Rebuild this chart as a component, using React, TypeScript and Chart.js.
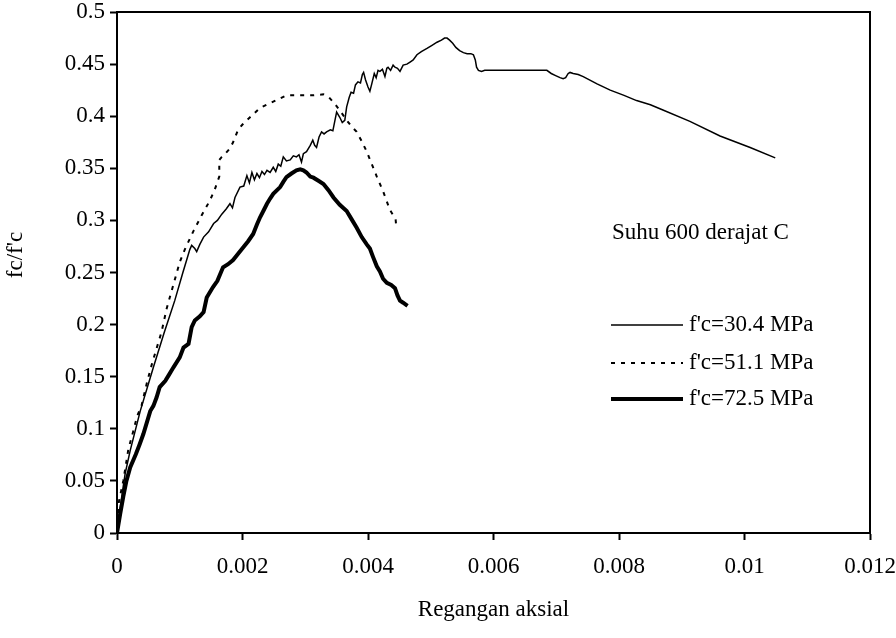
import React, { useEffect, useRef } from "react";
import { Chart, registerables } from "chart.js";

Chart.register(...registerables);

const FONT = "'Liberation Serif', 'Times New Roman', serif";

// Axis ticks
const xTickValues = [0, 0.002, 0.004, 0.006, 0.008, 0.01, 0.012];
const xTickLabels = ["0", "0.002", "0.004", "0.006", "0.008", "0.01", "0.012"];
const yTickValues = [0, 0.05, 0.1, 0.15, 0.2, 0.25, 0.3, 0.35, 0.4, 0.45, 0.5];
const yTickLabels = ["0", "0.05", "0.1", "0.15", "0.2", "0.25", "0.3", "0.35", "0.4", "0.45", "0.5"];

const xTitle = "Regangan aksial";
const yTitle = "fc/f'c";
const noteText = "Suhu 600 derajat C";

// Series 1: f'c=30.4 MPa (thin solid)
const s1Label = "f'c=30.4 MPa";
const s1Strain = [
  0, 0.00002, 0.00005, 0.0001, 0.00013, 0.00021, 0.00037, 0.00058, 0.00075, 0.00092,
  0.00105, 0.00111, 0.00116, 0.00119, 0.00124, 0.00127, 0.00132, 0.00138, 0.00146, 0.00154,
  0.0016, 0.00167, 0.00174, 0.0018, 0.00184, 0.00188, 0.00196, 0.00202, 0.00207, 0.00211,
  0.00215, 0.00219, 0.00223, 0.00227, 0.00231, 0.00235, 0.00239, 0.00244, 0.00249, 0.00253,
  0.00257, 0.00261, 0.00265, 0.0027, 0.00276, 0.00281, 0.00286, 0.0029, 0.00294, 0.00297,
  0.00302, 0.00308, 0.00312, 0.00315, 0.00318, 0.00322, 0.00326, 0.0033, 0.00334, 0.0034,
  0.00344, 0.00347, 0.0035, 0.00355, 0.00359, 0.00363, 0.00366, 0.0037, 0.00373, 0.00377,
  0.0038, 0.00384, 0.00388, 0.00391, 0.00393, 0.00396, 0.004, 0.00403, 0.00406, 0.0041,
  0.00413, 0.00416, 0.00419, 0.00423, 0.00427, 0.0043, 0.00432, 0.00436, 0.0044, 0.00443,
  0.00447, 0.00451, 0.00456, 0.00462, 0.00467, 0.00472, 0.00478, 0.00485, 0.00494, 0.00502,
  0.0051, 0.00517, 0.00522, 0.00526, 0.0053, 0.00535, 0.0054, 0.00546, 0.00552, 0.00558,
  0.00564, 0.00568, 0.00571, 0.00573, 0.00576, 0.00581, 0.00586, 0.00594, 0.006, 0.0065,
  0.00685, 0.00692, 0.00699, 0.00706, 0.00711, 0.00715, 0.00719, 0.00722, 0.00727, 0.00735,
  0.00743, 0.00765, 0.00786, 0.00808, 0.00828, 0.0085, 0.0087, 0.00913, 0.00961, 0.01009,
  0.01049,
];
const s1Ratio = [
  0, 0.012, 0.024, 0.045, 0.057, 0.079, 0.117, 0.159, 0.192, 0.223,
  0.25, 0.262, 0.272, 0.276, 0.273, 0.27, 0.277, 0.284, 0.289, 0.297,
  0.3, 0.306, 0.311, 0.316, 0.312, 0.322, 0.332, 0.333, 0.343, 0.336,
  0.346, 0.339, 0.345, 0.341, 0.347, 0.344, 0.348, 0.346, 0.351, 0.347,
  0.354, 0.352, 0.361, 0.357, 0.358, 0.362, 0.361, 0.363, 0.356, 0.364,
  0.366, 0.372, 0.377, 0.372, 0.37, 0.38, 0.385, 0.383, 0.385, 0.387,
  0.386, 0.395, 0.404, 0.399, 0.394, 0.396, 0.409, 0.418, 0.423, 0.422,
  0.43, 0.433, 0.432, 0.44, 0.442, 0.435, 0.428, 0.424, 0.431, 0.441,
  0.437, 0.444, 0.443, 0.445, 0.438, 0.446, 0.447, 0.444, 0.449, 0.447,
  0.446, 0.443, 0.449, 0.45, 0.452, 0.454, 0.459, 0.462, 0.465, 0.468,
  0.471, 0.473, 0.475, 0.475, 0.473, 0.47, 0.466, 0.463, 0.461, 0.46,
  0.46, 0.459, 0.454, 0.447, 0.444, 0.443, 0.444, 0.444, 0.444, 0.444,
  0.444, 0.441, 0.439, 0.437, 0.436, 0.437, 0.441, 0.442, 0.441, 0.44,
  0.438, 0.431, 0.425, 0.42, 0.415, 0.411, 0.406, 0.395, 0.381, 0.37,
  0.36,
];

// Series 2: f'c=51.1 MPa (dotted)
const s2Label = "f'c=51.1 MPa";
const s2Strain = [
  0, 0.00003, 0.0001, 0.00018, 0.00026, 0.00032, 0.00039, 0.00048, 0.00056, 0.00063,
  0.00071, 0.00079, 0.00085, 0.00093, 0.001, 0.00108, 0.00115, 0.00122, 0.00135, 0.00148,
  0.00156, 0.00163, 0.00163, 0.00167, 0.00174, 0.0018, 0.00185, 0.00193, 0.002, 0.00212,
  0.00228, 0.00249, 0.0027, 0.0029, 0.00313, 0.00329, 0.00338, 0.00347, 0.00357, 0.00366,
  0.00374, 0.00382, 0.0039, 0.00398, 0.00406, 0.00414, 0.00424, 0.00435, 0.00444, 0.00445,
];
const s2Ratio = [
  0, 0.03, 0.05, 0.08, 0.098, 0.112, 0.122, 0.145, 0.163, 0.177,
  0.193, 0.215, 0.228, 0.245, 0.26, 0.272, 0.281, 0.29, 0.305, 0.319,
  0.33, 0.342, 0.358, 0.361, 0.365, 0.369, 0.375, 0.387, 0.392, 0.399,
  0.408, 0.414, 0.42, 0.42, 0.42, 0.421, 0.418, 0.412, 0.404, 0.396,
  0.39, 0.385, 0.376, 0.366, 0.354, 0.342, 0.328, 0.31, 0.301, 0.294,
];

// Series 3: f'c=72.5 MPa (thick solid)
const s3Label = "f'c=72.5 MPa";
const s3Strain = [
  0, 0.00005, 0.0001, 0.00015, 0.00021, 0.0003, 0.00036, 0.00042, 0.00053, 0.00058,
  0.00063, 0.00068, 0.00077, 0.00083, 0.0009, 0.001, 0.00106, 0.00114, 0.00119, 0.00124,
  0.00132, 0.00138, 0.00143, 0.00153, 0.0016, 0.00169, 0.00177, 0.00185, 0.00193, 0.00201,
  0.00209, 0.00217, 0.00223, 0.00228, 0.00234, 0.00239, 0.00244, 0.00249, 0.0026, 0.00265,
  0.0027, 0.00278, 0.00286, 0.00292, 0.00297, 0.00302, 0.00308, 0.00313, 0.00321, 0.00329,
  0.00337, 0.00345, 0.00355, 0.00366, 0.00374, 0.00382, 0.0039, 0.00398, 0.00403, 0.00408,
  0.00414, 0.00419, 0.00424, 0.0043, 0.00437, 0.00443, 0.00447, 0.00451, 0.00456, 0.00463,
];
const s3Ratio = [
  0, 0.018, 0.035, 0.05, 0.063, 0.0755, 0.085, 0.095, 0.117, 0.122,
  0.13, 0.14, 0.146, 0.152, 0.159, 0.1685, 0.178, 0.1815, 0.1975, 0.204,
  0.208, 0.212, 0.226, 0.236, 0.242, 0.255, 0.258, 0.262, 0.268, 0.274,
  0.28, 0.287, 0.296, 0.303, 0.31, 0.316, 0.321, 0.3255, 0.332, 0.337,
  0.3415, 0.345, 0.348, 0.349, 0.348, 0.346, 0.342, 0.341, 0.338, 0.335,
  0.329, 0.322, 0.315, 0.309, 0.301, 0.293, 0.284, 0.277, 0.273, 0.265,
  0.256, 0.251, 0.244, 0.24, 0.238, 0.235, 0.228, 0.223, 0.221, 0.218,
];

const toPoints = (xs: number[], ys: number[]) => xs.map((x, i) => ({ x, y: ys[i] }));

const TEXT_SIZE = 23;

const framePlugin = {
  id: "frameAndLegend",
  afterDraw(chart: any) {
    const { ctx, chartArea: a } = chart;
    ctx.save();
    // top and right frame
    ctx.strokeStyle = "#000";
    ctx.lineWidth = 2;
    ctx.setLineDash([]);
    ctx.beginPath();
    ctx.moveTo(a.left - 1, a.top);
    ctx.lineTo(a.right, a.top);
    ctx.lineTo(a.right, a.bottom);
    ctx.stroke();

    ctx.fillStyle = "#000";
    ctx.font = `${TEXT_SIZE}px ${FONT}`;

    // y-axis title (rotated)
    ctx.save();
    ctx.translate(16, a.top + 243);
    ctx.rotate(-Math.PI / 2);
    ctx.textAlign = "center";
    ctx.textBaseline = "middle";
    ctx.fillText(yTitle, 0, 0);
    ctx.restore();

    // note text
    ctx.textAlign = "left";
    ctx.textBaseline = "middle";
    ctx.fillText(noteText, a.left + 495, a.top + 221);

    // legend
    const rows = [313, 351, 387];
    chart.data.datasets.forEach((ds: any, i: number) => {
      const y = a.top + rows[i];
      ctx.beginPath();
      ctx.lineWidth = ds.borderWidth;
      ctx.setLineDash(ds.borderDash || []);
      ctx.strokeStyle = "#000";
      ctx.moveTo(a.left + 494, y);
      ctx.lineTo(a.left + 566, y);
      ctx.stroke();
      ctx.setLineDash([]);
      ctx.fillText(ds.label, a.left + 572, y);
    });
    ctx.restore();
  },
};

export default function App() {
  const ref = useRef<HTMLCanvasElement | null>(null);
  useEffect(() => {
    document.body.style.margin = "0";
    const canvas = ref.current;
    if (!canvas) return;
    const tickFont = { family: FONT, size: TEXT_SIZE };
    const chart = new Chart(canvas, {
      type: "line",
      data: {
        datasets: [
          {
            label: s1Label,
            data: toPoints(s1Strain, s1Ratio),
            borderColor: "#000",
            borderWidth: 1.5,
            pointRadius: 0,
            tension: 0,
          },
          {
            label: s2Label,
            data: toPoints(s2Strain, s2Ratio),
            borderColor: "#000",
            borderWidth: 2,
            borderDash: [4, 6],
            pointRadius: 0,
            tension: 0,
          },
          {
            label: s3Label,
            data: toPoints(s3Strain, s3Ratio),
            borderColor: "#000",
            borderWidth: 4,
            pointRadius: 0,
            tension: 0,
          },
        ],
      },
      options: {
        responsive: false,
        animation: false,
        parsing: false,
        layout: { padding: { top: 12, right: 26, bottom: 0, left: 0 } },
        plugins: { legend: { display: false }, tooltip: { enabled: false } },
        scales: {
          x: {
            type: "linear",
            min: 0,
            max: 0.012,
            afterBuildTicks: (s: any) => {
              s.ticks = xTickValues.map((v) => ({ value: v }));
            },
            afterFit: (s: any) => {
              s.height = 105;
              s.paddingLeft = 0;
              s.paddingRight = 0;
            },
            ticks: {
              color: "#000",
              font: tickFont,
              padding: 13,
              maxRotation: 0,
              autoSkip: false,
              callback: (_v: any, i: number) => xTickLabels[i],
            },
            grid: { drawOnChartArea: false, drawTicks: true, tickLength: 7, tickWidth: 2, color: "#000" },
            border: { display: true, color: "#000", width: 2 },
            title: { display: true, text: xTitle, color: "#000", font: tickFont, padding: { top: 0, bottom: 14 } },
          },
          y: {
            type: "linear",
            min: 0,
            max: 0.5,
            afterBuildTicks: (s: any) => {
              s.ticks = yTickValues.map((v) => ({ value: v }));
            },
            afterFit: (s: any) => {
              s.width = 117;
              s.paddingTop = 0;
              s.paddingBottom = 0;
            },
            ticks: {
              color: "#000",
              font: tickFont,
              padding: 5,
              autoSkip: false,
              callback: (_v: any, i: number) => yTickLabels[i],
            },
            grid: { drawOnChartArea: false, drawTicks: true, tickLength: 7, tickWidth: 2, color: "#000" },
            border: { display: true, color: "#000", width: 2 },
            title: { display: false },
          },
        },
      },
      plugins: [framePlugin],
    });
    return () => chart.destroy();
  }, []);
  return <canvas ref={ref} width={896} height={638} style={{ display: "block" }} />;
}
